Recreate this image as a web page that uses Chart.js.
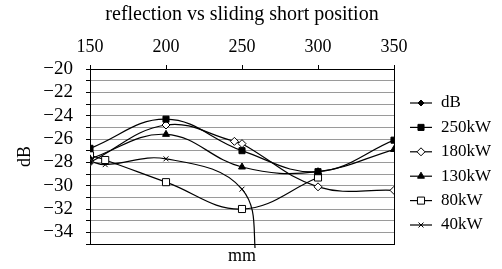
<!DOCTYPE html>
<html lang="en">
<head>
    <meta charset="UTF-8">
    <title>reflection vs sliding short position</title>
    <script src="https://cdn.jsdelivr.net/npm/chart.js"></script>
    <style>
        html, body { margin: 0; padding: 0; background: #fff; }
        #wrap { width: 502px; height: 269px; }
    </style>
</head>
<body>
<div id="wrap"><canvas id="chart"></canvas></div>
<script>
    // values (x in mm, y in dB)
    const xDb = [150];
    const yDb = [-28.0];
    const x250 = [150, 200, 250, 300, 350];
    const y250 = [-26.8, -24.3, -27.0, -28.8, -26.1];
    const x180 = [150, 200, 245, 250, 300, 350];
    const y180 = [-28.0, -24.8, -26.2, -26.4, -30.1, -30.4];
    const x130 = [150, 200, 250, 300, 350];
    const y130 = [-27.7, -25.6, -28.4, -28.8, -26.9];
    const x80 = [150, 160, 200, 250, 300];
    const y80 = [-27.4, -27.8, -29.7, -32.0, -29.3];
    const x40 = [150, 160, 200, 250, 260];
    const y40 = [-27.9, -28.2, -27.7, -30.3, -37];

    const xTicks = [150, 200, 250, 300, 350];
    const seriesNames = ['dB', '250kW', '180kW', '130kW', '80kW', '40kW'];

    const serif = "'Liberation Serif', 'DejaVu Serif', serif";

    function pts(xs, ys) {
        return xs.map((x, i) => ({x: x, y: ys[i]}));
    }

    function series(label, xs, ys, style, radius, fill) {
        return {
            label: label,
            data: pts(xs, ys),
            showLine: true,
            tension: 0.4,
            borderColor: '#000',
            borderWidth: 1.2,
            pointStyle: style,
            pointRadius: radius,
            pointHoverRadius: radius,
            pointBackgroundColor: fill,
            pointBorderColor: '#000',
            pointBorderWidth: 1,
            clip: {left: 0, top: 0, right: 0, bottom: 4}
        };
    }

    // legend on the right: line + marker + name
    const sideLegend = {
        id: 'sideLegend',
        afterDraw(chart) {
            const ctx = chart.ctx;
            ctx.save();
            chart.data.datasets.forEach((ds, i) => {
                const y = 103 + i * 24.4;
                ctx.strokeStyle = '#000';
                ctx.lineWidth = 1.2;
                ctx.beginPath();
                ctx.moveTo(410, y);
                ctx.lineTo(432, y);
                ctx.stroke();
                ctx.fillStyle = ds.pointBackgroundColor;
                ctx.lineWidth = 1;
                Chart.helpers.drawPoint(ctx, {
                    pointStyle: ds.pointStyle,
                    radius: ds.pointRadius,
                    borderWidth: 1,
                    rotation: 0
                }, 421, y);
                ctx.fillStyle = '#000';
                ctx.font = '17px ' + serif;
                ctx.textBaseline = 'middle';
                ctx.textAlign = 'left';
                ctx.fillText(ds.label, 441, y);
            });
            ctx.restore();
        }
    };

    const ctx = document.getElementById('chart').getContext('2d');
    new Chart(ctx, {
        type: 'scatter',
        data: {
            datasets: [
                series(seriesNames[0], xDb, yDb, 'rectRot', 3, '#000'),
                series(seriesNames[1], x250, y250, 'rect', 4.3, '#000'),
                series(seriesNames[2], x180, y180, 'rectRot', 4, '#fff'),
                series(seriesNames[3], x130, y130, 'triangle', 4, '#000'),
                series(seriesNames[4], x80, y80, 'rect', 5, '#fff'),
                series(seriesNames[5], x40, y40, 'crossRot', 3.5, '#000')
            ]
        },
        plugins: [sideLegend],
        options: {
            responsive: true,
            maintainAspectRatio: false,
            animation: false,
            layout: {padding: {left: 0, right: 108, top: 0, bottom: 0}},
            plugins: {
                legend: {display: false},
                tooltip: {enabled: false},
                title: {
                    display: true,
                    text: 'reflection vs sliding short position',
                    fullSize: false,
                    color: '#000',
                    font: {family: serif, size: 20, weight: 'normal'},
                    padding: {top: 3, bottom: 0}
                }
            },
            scales: {
                x: {
                    type: 'linear',
                    position: 'top',
                    min: 150,
                    max: 350,
                    afterBuildTicks: (s) => { s.ticks = xTicks.map(v => ({value: v})); },
                    afterFit: (s) => { s.height = 69 - 27; },
                    ticks: {
                        color: '#000',
                        padding: 7,
                        font: {family: serif, size: 18}
                    },
                    grid: {drawOnChartArea: false, drawTicks: true, tickLength: 4, color: '#000'},
                    border: {display: true, color: '#000', width: 1}
                },
                x2: {
                    type: 'linear',
                    axis: 'x',
                    position: 'bottom',
                    min: 150,
                    max: 350,
                    afterFit: (s) => { s.height = 25; },
                    ticks: {display: false},
                    grid: {display: false},
                    border: {display: true, color: '#000', width: 1},
                    title: {
                        display: true,
                        text: 'mm',
                        color: '#000',
                        font: {family: serif, size: 18},
                        padding: {top: 0, bottom: 2}
                    }
                },
                y: {
                    type: 'linear',
                    position: 'left',
                    min: -35,
                    max: -20,
                    afterFit: (s) => { s.width = 90; },
                    ticks: {
                        stepSize: 1,
                        autoSkip: false,
                        color: '#000',
                        padding: 13,
                        font: {family: serif, size: 19},
                        callback: (v) => (v % 2 === 0 ? '\u2212' + Math.abs(v) : '')
                    },
                    grid: {color: '#9a9a9a', lineWidth: 1, tickColor: '#000', tickLength: 4},
                    border: {display: true, color: '#000', width: 1},
                    title: {
                        display: true,
                        text: 'dB',
                        color: '#000',
                        font: {family: serif, size: 18},
                        padding: {top: 14, bottom: 0}
                    }
                },
                y2: {
                    type: 'linear',
                    axis: 'y',
                    position: 'right',
                    min: -35,
                    max: -20,
                    afterFit: (s) => { s.width = 0; },
                    ticks: {display: false},
                    grid: {display: false},
                    border: {display: true, color: '#000', width: 1}
                }
            }
        }
    });
</script>
</body>
</html>
